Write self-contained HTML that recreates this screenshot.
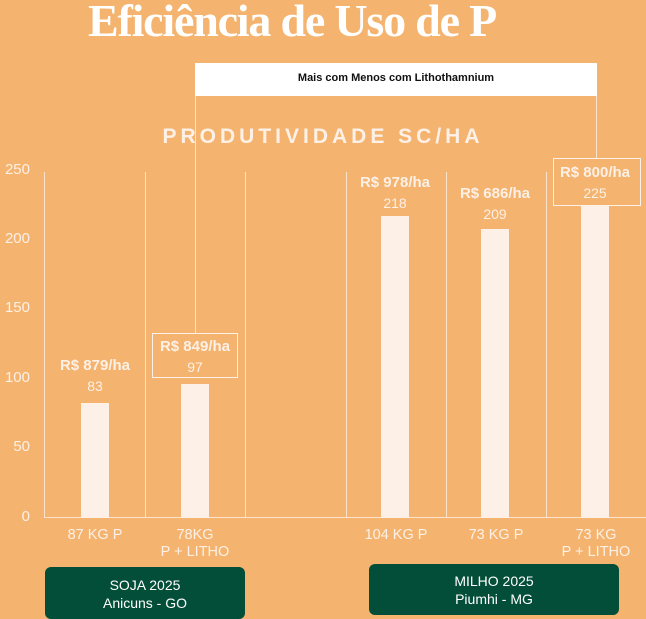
<!DOCTYPE html>
<html><head><meta charset="utf-8"><style>
body{margin:0;width:646px;height:619px;background:#F4B46F;overflow:hidden;position:relative;font-family:"Liberation Sans",sans-serif;color:#fff}
.a{position:absolute}
.v{position:absolute;width:1px;background:#FBE3CC;top:172px;height:346px}
.bar{position:absolute;width:28px;background:#FDF0E6;bottom:101px}
.yl{position:absolute;left:0;width:30px;text-align:right;font-size:15px;color:#FDF0E6}
.lbl{position:absolute;width:100px;text-align:center;font-size:14.5px;line-height:17px;color:#FDF0E6}
.val{position:absolute;width:100px;text-align:center;font-size:14px;line-height:20px;color:#FDF0E6}
.val b{font-size:15px}
.g{position:absolute;background:#034E38;color:#fff;text-align:center;font-size:14px;line-height:18px;border-radius:6px}
</style></head><body>
<div class="a" style="left:88px;top:-6px;font-family:'Liberation Serif',serif;font-weight:bold;font-size:46px;letter-spacing:-1.2px">Eficiência de Uso de P</div>
<div class="a" style="left:195px;top:63px;width:402px;height:33px;background:#fff;color:#111;font-size:11px;font-weight:bold;text-align:center;line-height:30px">Mais com Menos com Lithothamnium</div>
<div class="a" style="left:195px;top:96px;width:1px;height:237px;background:#FBE3CC"></div>
<div class="a" style="left:596px;top:96px;width:1px;height:62px;background:#FBE3CC"></div>
<div class="a" style="left:0;width:646px;top:125px;text-align:center;font-size:21px;font-weight:bold;letter-spacing:4px;color:#FDF0E6">PRODUTIVIDADE SC/HA</div>
<div class="a" style="left:44px;top:517px;width:602px;height:1px;background:#FBE3CC"></div>
<div class="v" style="left:44px"></div><div class="v" style="left:145px"></div><div class="v" style="left:245px"></div><div class="v" style="left:346px"></div><div class="v" style="left:446px"></div><div class="v" style="left:546px"></div>
<div class="yl" style="top:161px">250</div><div class="yl" style="top:230px">200</div><div class="yl" style="top:299px">150</div><div class="yl" style="top:369px">100</div><div class="yl" style="top:438px">50</div><div class="yl" style="top:508px">0</div>
<div class="bar" style="left:81px;height:115px"></div>
<div class="bar" style="left:181px;height:134px"></div>
<div class="bar" style="left:381px;height:302px"></div>
<div class="bar" style="left:481px;height:289px"></div>
<div class="bar" style="left:581px;height:312px"></div>
<div class="val" style="left:45px;top:355px"><b>R$ 879/ha</b><br>83</div>
<div class="a" style="left:152px;top:333px;width:84px;height:43px;border:1px solid #FDF0E6"></div>
<div class="val" style="left:145px;top:336px"><b>R$ 849/ha</b><br>97</div>
<div class="val" style="left:345px;top:172px"><b>R$ 978/ha</b><br>218</div>
<div class="val" style="left:445px;top:183px"><b>R$ 686/ha</b><br>209</div>
<div class="a" style="left:553px;top:158px;width:86px;height:46px;border:1px solid #FDF0E6"></div>
<div class="val" style="left:545px;top:162px"><b>R$ 800/ha</b><br>225</div>
<div class="lbl" style="left:45px;top:527px">87 KG P</div>
<div class="lbl" style="left:145px;top:527px">78KG<br>P + LITHO</div>
<div class="lbl" style="left:346px;top:527px">104 KG P</div>
<div class="lbl" style="left:446px;top:527px">73 KG P</div>
<div class="lbl" style="left:546px;top:527px">73 KG<br>P + LITHO</div>
<div class="g" style="left:45px;top:567px;width:200px;height:52px;padding-top:9px;box-sizing:border-box">SOJA 2025<br>Anicuns - GO</div>
<div class="g" style="left:369px;top:564px;width:250px;height:51px;padding-top:8px;box-sizing:border-box">MILHO 2025<br>Piumhi - MG</div>
</body></html>
